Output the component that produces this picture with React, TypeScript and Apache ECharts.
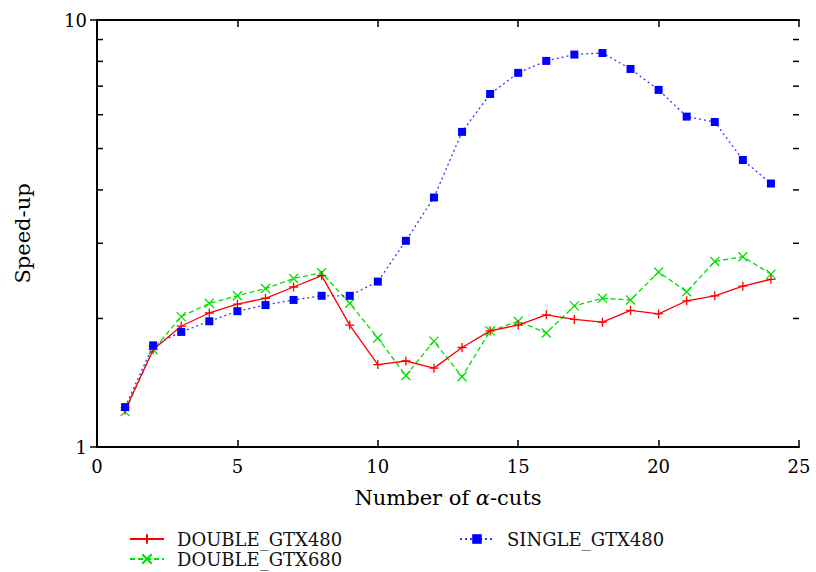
import React, { useEffect, useRef } from "react";
import * as echarts from "echarts";

const alphaCuts = [1, 2, 3, 4, 5, 6, 7, 8, 9, 10, 11, 12, 13, 14, 15, 16, 17, 18, 19, 20, 21, 22, 23, 24];
const doubleGTX480 = [1.22, 1.69, 1.92, 2.06, 2.16, 2.23, 2.37, 2.52, 1.93, 1.56, 1.59, 1.53, 1.71, 1.87, 1.93, 2.04, 1.99, 1.96, 2.09, 2.05, 2.2, 2.26, 2.38, 2.47];
const doubleGTX680 = [1.21, 1.69, 2.02, 2.17, 2.26, 2.35, 2.48, 2.56, 2.17, 1.8, 1.47, 1.77, 1.46, 1.87, 1.97, 1.85, 2.14, 2.23, 2.21, 2.57, 2.31, 2.72, 2.79, 2.54];
const singleGTX480 = [1.24, 1.73, 1.86, 1.97, 2.08, 2.15, 2.21, 2.26, 2.26, 2.44, 3.04, 3.84, 5.47, 6.71, 7.52, 8.02, 8.3, 8.37, 7.68, 6.86, 5.94, 5.77, 4.7, 4.14];
const xTicks = { min: 0, max: 25, interval: 5 };
const yTicks = { min: 1, max: 10 };
const yMinorTicks = [2, 3, 4, 5, 6, 7, 8, 9];

const FONT = "DejaVu Serif";

const pairs = (ys: number[]) => alphaCuts.map((x, i) => [x, ys[i]]);

export default function App() {
  const ref = useRef<HTMLDivElement>(null);
  useEffect(() => {
    if (!ref.current) return;
    const chart = echarts.init(ref.current, undefined, { renderer: "svg" });
    const axisLine = { show: true, lineStyle: { color: "#000", width: 2 } };
    const tick = { show: true, inside: true, length: 7, lineStyle: { color: "#000", width: 1.5 } };
    const xCommon = {
      type: "value",
      min: xTicks.min,
      max: xTicks.max,
      interval: xTicks.interval,
      axisLine,
      axisTick: tick,
      splitLine: { show: false },
    };
    const yCommon = {
      type: "log",
      logBase: 10,
      min: yTicks.min,
      max: yTicks.max,
      axisLine,
      axisTick: tick,
      splitLine: { show: false },
    };
    const legendText = { color: "#111", fontSize: 18, fontFamily: FONT, padding: [0, 0, 0, 8] };
    chart.setOption({
      animation: false,
      backgroundColor: "#fff",
      textStyle: { fontFamily: FONT },
      grid: { left: 97, right: 17, top: 20, bottom: 125, containLabel: false },
      xAxis: [
        {
          ...xCommon,
          position: "bottom",
          axisLabel: { color: "#000", fontSize: 18, fontFamily: FONT, margin: 10 },
          name: "Number of {i|α}-cuts",
          nameLocation: "middle",
          nameGap: 40,
          nameTextStyle: {
            color: "#000",
            fontSize: 21,
            fontFamily: FONT,
            rich: { i: { fontStyle: "italic", fontSize: 21, fontFamily: FONT, color: "#000" } },
          },
        },
        { ...xCommon, position: "top", axisLabel: { show: false } },
      ],
      yAxis: [
        {
          ...yCommon,
          position: "left",
          axisLabel: { color: "#000", fontSize: 18, fontFamily: FONT, margin: 10 },
          name: "Speed-up",
          nameLocation: "middle",
          nameGap: 64,
          nameRotate: 90,
          nameTextStyle: { color: "#000", fontSize: 21, fontFamily: FONT },
        },
        { ...yCommon, position: "right", axisLabel: { show: false } },
      ],
      legend: [
        {
          orient: "vertical",
          left: 129,
          top: 530,
          height: 60,
          padding: 0,
          itemWidth: 34,
          itemHeight: 12,
          itemGap: 2,
          textStyle: legendText,
          data: ["DOUBLE_GTX480", "DOUBLE_GTX680"],
        },
        {
          orient: "vertical",
          left: 459,
          top: 530,
          height: 30,
          padding: 0,
          itemWidth: 34,
          itemHeight: 12,
          textStyle: legendText,
          data: ["SINGLE_GTX480"],
        },
      ],
      series: [
        {
          name: "DOUBLE_GTX480",
          type: "line",
          data: pairs(doubleGTX480),
          symbol: "path://M5,0L5,10M0,5L10,5",
          symbolSize: 9,
          lineStyle: { color: "#ff0000", width: 1.3, type: "solid" },
          itemStyle: { color: "#ff0000", borderColor: "#ff0000", borderWidth: 1.3 },
          z: 3,
        },
        {
          name: "DOUBLE_GTX680",
          type: "line",
          data: pairs(doubleGTX680),
          symbol: "path://M0,0L10,10M0,10L10,0",
          symbolSize: 9,
          lineStyle: { color: "#00e000", width: 1.3, type: [5, 3] },
          itemStyle: { color: "#00e000", borderColor: "#00e000", borderWidth: 1.3 },
          z: 2,
        },
        {
          name: "SINGLE_GTX480",
          type: "line",
          data: pairs(singleGTX480),
          symbol: "rect",
          symbolSize: 8,
          lineStyle: { color: "#3333ff", width: 1.3, type: [2, 3] },
          itemStyle: { color: "#0000ff" },
          z: 4,
        },
      ],
    });
    const graphics: any[] = [];
    yMinorTicks.forEach((v) => {
      const pl = chart.convertToPixel({ gridIndex: 0 }, [xTicks.min, v]) as number[];
      const pr = chart.convertToPixel({ gridIndex: 0 }, [xTicks.max, v]) as number[];
      graphics.push({
        type: "rect",
        shape: { x: pl[0], y: pl[1] - 0.75, width: 6, height: 1.5 },
        style: { fill: "#000" },
        z: 100,
      });
      graphics.push({
        type: "rect",
        shape: { x: pr[0] - 6, y: pr[1] - 0.75, width: 6, height: 1.5 },
        style: { fill: "#000" },
        z: 100,
      });
    });
    chart.setOption({ graphic: { elements: graphics } });
    return () => chart.dispose();
  }, []);
  return <div ref={ref} style={{ width: 816, height: 572, position: "absolute", left: 0, top: 0 }} />;
}
